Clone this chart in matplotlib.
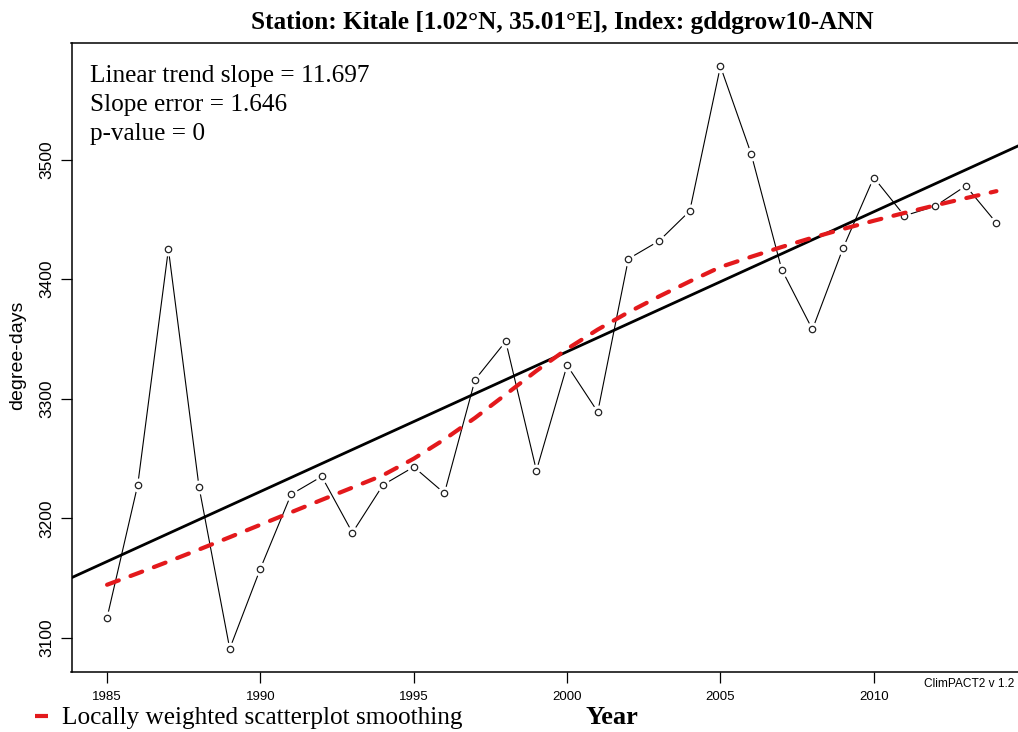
import matplotlib
matplotlib.use("Agg")
import matplotlib.pyplot as plt
from matplotlib.lines import Line2D
import numpy as np

# gddgrow10-ANN, Kitale station
years = np.arange(1985, 2015)
gdd = np.array([3117, 3228, 3425, 3226, 3091, 3158, 3220, 3235, 3188, 3228,
                3243, 3221, 3316, 3348, 3240, 3328, 3289, 3417, 3432, 3457,
                3578, 3505, 3408, 3358, 3426, 3485, 3453, 3461, 3478, 3447])
trend_slope = 11.697
slope_error = 1.646
p_value = 0
x_ticks = [1985, 1990, 1995, 2000, 2005, 2010]
y_ticks = [3100, 3200, 3300, 3400, 3500]


def lowess(x, y, f=2 / 3, iters=3):
    # same steps as R's clowess
    x = np.asarray(x, float)
    y = np.asarray(y, float)
    n = len(x)
    ns = max(2, min(n, int(f * n + 1e-7)))
    rw = np.ones(n)
    ys = np.zeros(n)
    span = x[-1] - x[0]
    for it in range(iters + 1):
        nleft, nright = 0, ns - 1
        for i in range(n):
            while nright < n - 1 and x[i] - x[nleft] > x[nright + 1] - x[i]:
                nleft += 1
                nright += 1
            h = max(x[i] - x[nleft], x[nright] - x[i])
            d = np.abs(x - x[i])
            w = np.where(d <= 0.001 * h, 1.0,
                         np.where(d <= 0.999 * h, (1 - (d / h) ** 3) ** 3, 0.0))
            w[:nleft] = 0.0
            w = w * rw
            sw = w.sum()
            if sw <= 0:
                ys[i] = y[i]
                continue
            w = w / sw
            if h > 0:
                a = np.sum(w * x)
                b = np.sum(w * (x - a) ** 2)
                if np.sqrt(b) > 0.001 * span:
                    w = w * ((x[i] - a) / b * (x - a) + 1)
            ys[i] = np.sum(w * y)
        if it == iters:
            break
        res = np.abs(y - ys)
        cmad = 6 * np.median(res)
        if cmad < 1e-7 * np.mean(res):
            break
        r = res / cmad
        rw = np.where(r <= 0.001, 1.0, np.where(r <= 0.999, (1 - r ** 2) ** 2, 0.0))
    return ys


W, H = 1018, 732
fig = plt.figure(figsize=(W / 100, H / 100), dpi=100)

# R-style 4% padding around the data range
xr = years.max() - years.min()
yr = gdd.max() - gdd.min()
xlim = (years.min() - 0.04 * xr, years.max() + 0.04 * xr)
ylim = (gdd.min() - 0.04 * yr, gdd.max() + 0.04 * yr)

left, right, top, bottom = 71.5, 1032, 43, 672
ax = fig.add_axes([left / W, 1 - bottom / H, (right - left) / W, (bottom - top) / H])
ax.set_xlim(xlim)
ax.set_ylim(ylim)

# observed series, R type="b": points with gaps in the line
ax.plot(years, gdd, color="black", lw=0.8, zorder=2)
ax.plot(years, gdd, ls="none", marker="o", ms=9, mfc="white", mec="white", zorder=3)
ax.plot(years, gdd, ls="none", marker="o", ms=4.6, mfc="white", mec="#222222",
        mew=0.9, zorder=4)

# linear trend through the mean point
ax.axline((years.mean(), gdd.mean()), slope=trend_slope, color="black", lw=2.0, zorder=5)

# lowess smoothing
smooth = lowess(years, gdd)
ax.plot(years, smooth, color="#e3191c", lw=3.0, dashes=(3.0, 3.0),
        dash_capstyle="round", zorder=6)

for s in ax.spines.values():
    s.set_linewidth(1.1)
ax.set_xticks(x_ticks)
ax.set_yticks(y_ticks)
ax.tick_params(axis="x", direction="out", length=8, width=0.9, pad=6, labelsize=9.5)
ax.tick_params(axis="y", direction="out", length=8, width=0.9, pad=4, labelsize=12.5)
for lab in ax.get_xticklabels():
    lab.set_family("Liberation Sans")
for lab in ax.get_yticklabels():
    lab.set_family("Liberation Sans")
    lab.set_rotation(90)
    lab.set_va("center")

serif = "Liberation Serif"
fig.text(562 / W, 1 - 23 / H, "Station: Kitale [1.02°N, 35.01°E], Index: gddgrow10-ANN",
         ha="center", va="center", family=serif, weight="bold", fontsize=18.2)

stats = [f"Linear trend slope = {trend_slope}", f"Slope error = {slope_error}",
         f"p-value = {p_value}"]
for k, line in enumerate(stats):
    fig.text(90 / W, 1 - (76 + 29 * k) / H, line, ha="left", va="center",
             family=serif, fontsize=18.2)

fig.text(18 / W, 1 - 355 / H, "degree-days", rotation=90, ha="center", va="center",
         family="Liberation Sans", fontsize=14)
fig.text(612 / W, 1 - 717 / H, "Year", ha="center", va="center", family=serif,
         weight="bold", fontsize=19)
fig.text(1014 / W, 1 - 684 / H, "ClimPACT2 v 1.2", ha="right", va="center",
         family="Liberation Sans", fontsize=8.6)

fig.add_artist(Line2D([35 / W, 48 / W], [1 - 716 / H, 1 - 716 / H], color="#e3191c",
                      lw=3.0, solid_capstyle="butt"))
fig.text(62 / W, 1 - 718 / H, "Locally weighted scatterplot smoothing", ha="left",
         va="center", family=serif, fontsize=18.2)

fig.savefig("out.png", dpi=100)
